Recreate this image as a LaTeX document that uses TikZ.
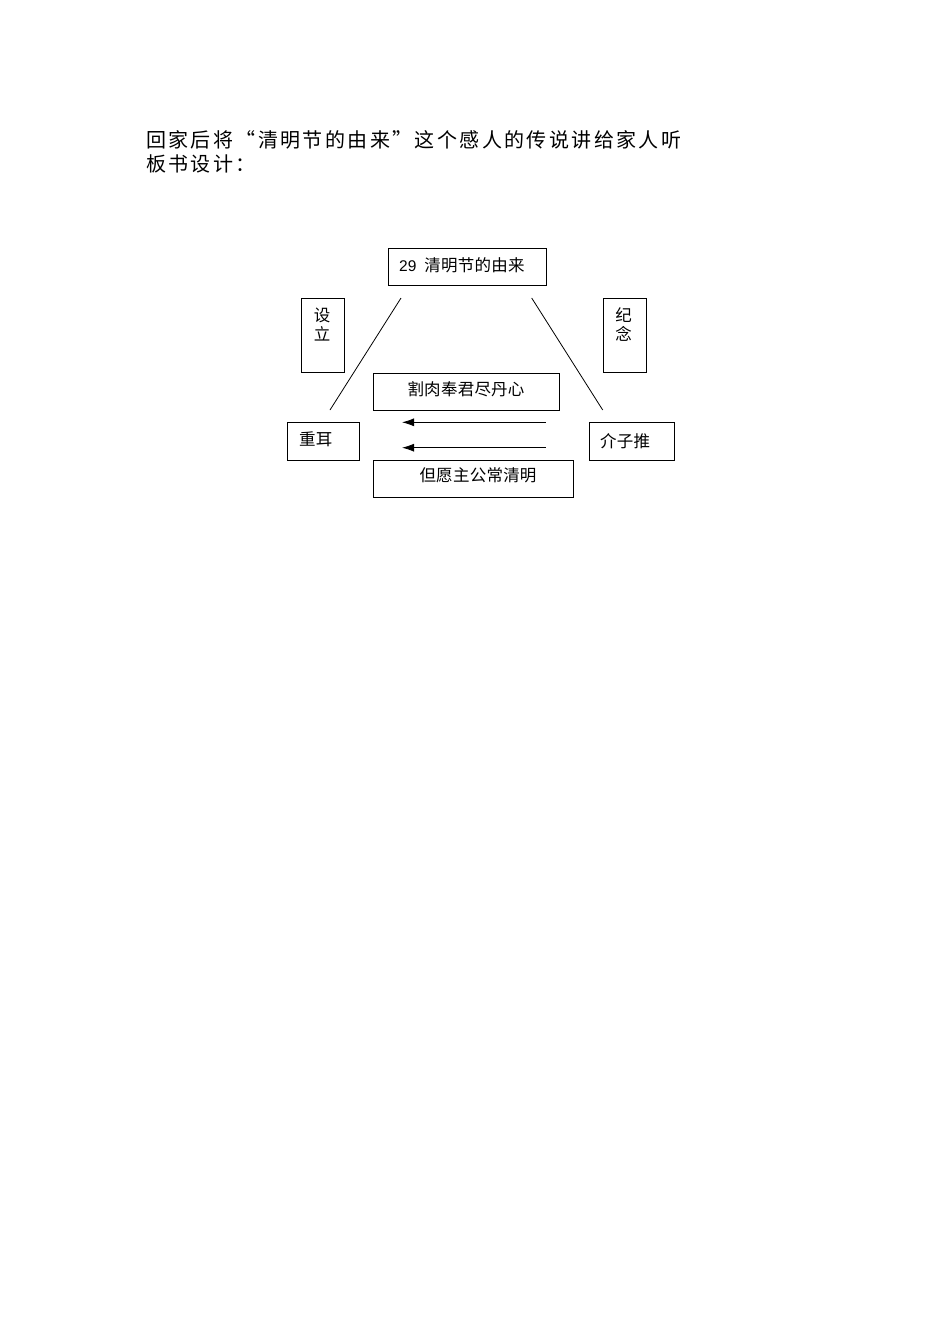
\documentclass[tikz,border=0pt]{standalone}
\usepackage{fontspec}
\setmainfont{Liberation Serif}
\setsansfont{Liberation Sans}
\newfontfamily\cjkwide[LetterSpace=12]{Noto Sans CJK SC}
\newfontfamily\cjkd[LetterSpace=1.5]{Noto Sans CJK SC}
\usetikzlibrary{arrows.meta}
\begin{document}
\begin{tikzpicture}[x=1pt,y=-1pt,
  box/.style={draw, line width=0.8pt, inner sep=0pt},
  lab/.style={font=\fontsize{16.5}{19}\selectfont\cjkd, inner sep=0pt, align=center},
  head/.style={font=\fontsize{20}{24}\selectfont\cjkwide, inner sep=0pt, anchor=base west},
  conn/.style={line width=0.8pt},
  arr/.style={line width=0.8pt, -{Latex[length=12pt,width=8pt]}}]
\useasboundingbox (0,0) rectangle (950,1344);
\fill[white] (0,0) rectangle (950,1344);
% heading text
\node[head] (l1) at (146,147) {回家后将“清明节的由来”这个感人的传说讲给家人听};
\node[head] (l2) at (146,171.5) {板书设计：};
% boxes
\node[box, minimum width=158pt, minimum height=37pt] (title) at (467,266.5) {};
\node[box, minimum width=43pt, minimum height=74pt] (sheli) at (322.5,335) {};
\node[box, minimum width=43pt, minimum height=74pt] (jinian) at (624.5,335) {};
\node[box, minimum width=186pt, minimum height=37pt] (gerou) at (466,391.5) {};
\node[box, minimum width=72pt, minimum height=38pt] (chonger) at (323,441) {};
\node[box, minimum width=85pt, minimum height=38pt] (jiezi) at (631.5,441) {};
\node[box, minimum width=200pt, minimum height=37pt] (danyuan) at (473,478.5) {};
% texts
\node[lab, anchor=west] (ttitle) at (399,265) {{\sffamily\fontsize{15.5}{19}\selectfont 29}\hspace{8pt}清明节的由来};
\node[lab] (tsheli) at (322,325) {设\\立};
\node[lab] (tjinian) at (623.5,325) {纪\\念};
\node[lab] (tgerou) at (466,389.7) {割肉奉君尽丹心};
\node[lab] (tdanyuan) at (478,475.5) {但愿主公常清明};
\node[lab, anchor=west] (tchonger) at (299,439) {重耳};
\node[lab, anchor=west] (tjiezi) at (600,441) {介子推};
% connectors
\coordinate (lt) at (401,298);
\coordinate (lb) at (330,410);
\coordinate (rt) at (531.7,298);
\coordinate (rb) at (602.7,410);
\draw[conn] (lt) -- (lb);
\draw[conn] (rt) -- (rb);
\coordinate (a1s) at (545.7,422.3);
\coordinate (a1e) at (402,422.3);
\coordinate (a2s) at (545.7,447.7);
\coordinate (a2e) at (402,447.7);
\draw[arr] (a1s) -- (a1e);
\draw[arr] (a2s) -- (a2e);
\end{tikzpicture}
\end{document}
